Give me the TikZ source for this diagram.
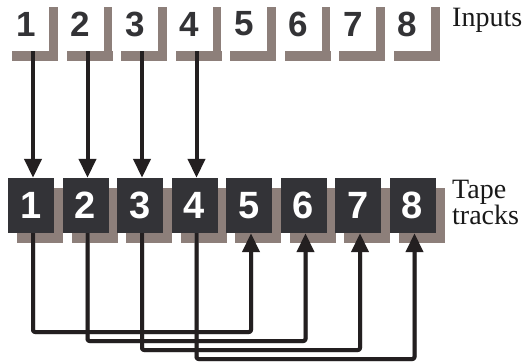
\documentclass[tikz,border=0pt]{standalone}
\usepackage{fontspec}
\setmainfont{Liberation Serif}
\newfontfamily\digitfont{Liberation Sans}
\usetikzlibrary{arrows.meta,shadows}
\definecolor{boxdark}{HTML}{333337}
\definecolor{shadowgray}{HTML}{8D7F7A}
\definecolor{linedark}{HTML}{231F20}
\definecolor{digitdark}{HTML}{333336}
\tikzset{
  inbox/.style={minimum width=46pt, minimum height=54pt, inner sep=0pt, fill=white,
    text=digitdark, font=\digitfont\bfseries\fontsize{35}{35}\selectfont,
    drop shadow={shadow xshift=9pt, shadow yshift=-10pt, fill=shadowgray, opacity=1}},
  trackbox/.style={minimum width=46pt, minimum height=55pt, inner sep=0pt, fill=boxdark,
    text=white, font=\digitfont\bfseries\fontsize{38}{38}\selectfont,
    drop shadow={shadow xshift=9pt, shadow yshift=-9.5pt, fill=shadowgray, opacity=1}},
  lbl/.style={inner sep=0pt, font=\fontsize{28}{22}\selectfont, text=black!90},
  conn/.style={draw=linedark, line width=4pt, line join=round, rounded corners=2pt},
  arr/.style={conn, -{Triangle[length=19pt,width=17pt]}},
  lshadow/.style={draw=black!35, line width=4pt, line join=round, rounded corners=2pt, xshift=1pt, yshift=-1pt}
}
\begin{document}
\begin{tikzpicture}[x=1pt,y=-1pt]
\useasboundingbox (0,0) rectangle (523,362);
\fill[white] (0,0) rectangle (523,362);
\foreach \i in {1,...,8}{
  \pgfmathsetmacro{\xin}{26+54.5*(\i-1)}
  \pgfmathsetmacro{\xtr}{31+54.5*(\i-1)}
  \pgfmathsetmacro{\xc}{33+54.5*(\i-1)}
  \node[inbox] (in\i) at (\xin,24) {\i};
  \node[trackbox] (tr\i) at (\xtr,205.5) {\i};
  \coordinate (c\i) at (\xc,0);
}
\coordinate (h1) at (0,332);
\coordinate (h2) at (0,341);
\coordinate (h3) at (0,350);
\coordinate (h4) at (0,359);
\node[lbl, anchor=base west] (inputs) at (452,26) {Inputs};
\node[lbl, anchor=north west, align=left] (tapetracks) at (452,179.5) {Tape\\tracks};
% input arrows
\foreach \i in {1,...,4}{
  \draw[lshadow] (in\i.south -| c\i) -- ([yshift=15pt]tr\i.north -| c\i);
  \draw[arr] (in\i.south -| c\i) -- (tr\i.north -| c\i);
}
% lower connectors
\foreach \i/\j/\h in {1/5/h1,2/6/h2,3/7/h3,4/8/h4}{
  \draw[lshadow] (tr\i.south -| c\i) |- (c\j |- \h) -- ([yshift=-15pt]tr\j.south -| c\j);
}
\foreach \i/\j/\h in {1/5/h1,2/6/h2,3/7/h3,4/8/h4}{
  \draw[arr] (tr\i.south -| c\i) |- (c\j |- \h) -- (tr\j.south -| c\j);
}
\end{tikzpicture}
\end{document}
